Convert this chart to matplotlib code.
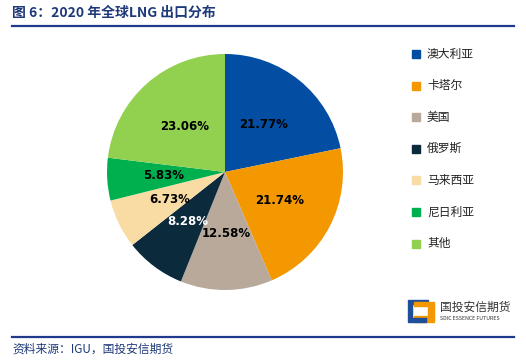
import matplotlib.pyplot as plt
from matplotlib.patches import Rectangle, Polygon

plt.rcParams['font.family'] = ['Noto Sans CJK SC', 'DejaVu Sans']

countries = ['澳大利亚', '卡塔尔', '美国', '俄罗斯', '马来西亚', '尼日利亚', '其他']
shares = [21.77, 21.74, 12.58, 8.28, 6.73, 5.83, 23.06]
colors = ['#034EA2', '#F39800', '#B8A99A', '#0B2A3C', '#F9DBA4', '#00B04F', '#92D050']
label_colors = ['black', 'black', 'black', 'white', 'black', 'black', 'black']

fig = plt.figure(figsize=(5.26, 3.6), dpi=100)
W, H = 526, 360

def px(x, y):
    return x / W, 1 - y / H

# title and rules
fig.text(*px(12, 13), '图 6：2020 年全球LNG 出口分布', fontsize=10, fontweight='bold',
         color='#1F3A7A', va='center', ha='left')
fig.add_artist(plt.Line2D([12 / W, 514 / W], [1 - 26 / H] * 2, color='#1F3A8A', lw=1.6))
fig.add_artist(plt.Line2D([12 / W, 514 / W], [1 - 337 / H] * 2, color='#1F3A8A', lw=1.6))
fig.text(*px(12, 349), '资料来源：IGU，国投安信期货', fontsize=8.5, style='italic',
         color='#1F3A7A', va='center', ha='left')

# pie
r = 118
cx, cy = 225, 172
ax = fig.add_axes([(cx - r) / W, 1 - (cy + r) / H, 2 * r / W, 2 * r / H])
wedges, texts, autotexts = ax.pie(shares, colors=colors, startangle=90, counterclock=False,
                                  autopct='%.2f%%', pctdistance=0.52)
for t, c in zip(autotexts, label_colors):
    t.set_color(c)
    t.set_fontsize(8.5)
    t.set_fontweight('bold')
    t.set_fontfamily('DejaVu Sans')
ax.set_xlim(-1, 1)
ax.set_ylim(-1, 1)
ax.set_aspect('equal')

# legend
for i, (name, col) in enumerate(zip(countries, colors)):
    y = 54 + i * 31.6
    fig.add_artist(Rectangle(px(412, y + 4), 8 / W, 8 / H, color=col, transform=fig.transFigure))
    fig.text(*px(427, y), name, fontsize=8.5, va='center', ha='left', color='#222222')

# logo
fig.add_artist(Polygon([px(408, 300), px(428, 300), px(428, 304), px(412, 304), px(412, 318),
                        px(408, 318)], closed=True, color='#1F4E9A', transform=fig.transFigure))
fig.add_artist(Polygon([px(414, 302), px(434, 302), px(434, 322), px(414, 322), px(414, 316),
                        px(428, 316), px(428, 306), px(414, 306)], closed=True, color='#F39800',
                       transform=fig.transFigure))
fig.add_artist(Polygon([px(408, 318), px(426, 318), px(426, 322), px(408, 322)], closed=True,
                       color='#1F4E9A', transform=fig.transFigure))
fig.text(*px(440, 307), '国投安信期货', fontsize=8.5, va='center', ha='left', color='#333333')
fig.text(*px(440, 319), 'SDIC ESSENCE FUTURES', fontsize=3.8, va='center', ha='left', color='#333333')

fig.savefig('out.png', dpi=100)
